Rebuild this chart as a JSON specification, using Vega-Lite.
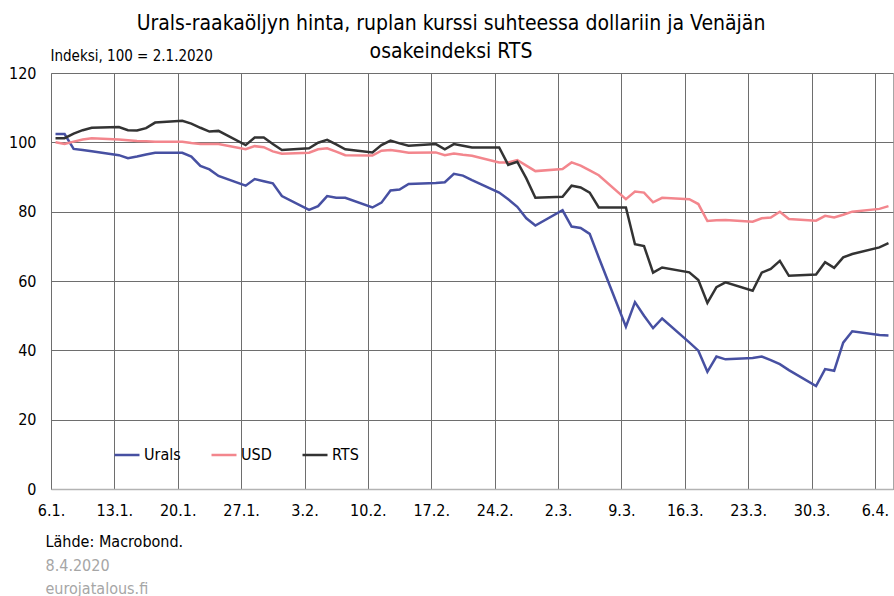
{
  "$schema": "https://vega.github.io/schema/vega-lite/v6.json",
  "width": 842,
  "height": 416,
  "autosize": {"type": "none"},
  "padding": {"left": 51, "top": 73, "right": 1, "bottom": 107},
  "background": "white",
  "config": {
    "font": "'Liberation Sans Narrow', 'DejaVu Sans Condensed', sans-serif",
    "view": {"stroke": "#a6a6a6", "strokeWidth": 1},
    "axis": {"labelColor": "#000000", "titleColor": "#000000", "titleFontWeight": "normal", "gridColor": "#6e6e6e", "gridWidth": 1, "gridOpacity": 1}
  },
  "title": {
    "text": ["Urals-raakaöljyn hinta, ruplan kurssi suhteessa dollariin ja Venäjän", "osakeindeksi RTS"],
    "fontSize": 21,
    "fontWeight": "normal",
    "color": "#000000",
    "anchor": "middle",
    "frame": "bounds",
    "lineHeight": 28,
    "offset": -14
  },
  "data": {"values": [
    {"date": "2020-01-06", "Urals": 102.4, "USD": 100.0, "RTS": 101.2},
    {"date": "2020-01-07", "Urals": 102.4, "USD": 99.5, "RTS": 101.2},
    {"date": "2020-01-08", "Urals": 98.1, "USD": 100.2, "RTS": 102.5},
    {"date": "2020-01-09", "Urals": 97.8, "USD": 100.8, "RTS": 103.5},
    {"date": "2020-01-10", "Urals": 97.4, "USD": 101.2, "RTS": 104.2},
    {"date": "2020-01-13", "Urals": 96.3, "USD": 100.8, "RTS": 104.4},
    {"date": "2020-01-14", "Urals": 95.4, "USD": 100.6, "RTS": 103.5},
    {"date": "2020-01-15", "Urals": 95.9, "USD": 100.4, "RTS": 103.4},
    {"date": "2020-01-16", "Urals": 96.5, "USD": 100.3, "RTS": 104.1},
    {"date": "2020-01-17", "Urals": 97.0, "USD": 100.2, "RTS": 105.7},
    {"date": "2020-01-20", "Urals": 97.0, "USD": 100.2, "RTS": 106.2},
    {"date": "2020-01-21", "Urals": 95.9, "USD": 99.8, "RTS": 105.4},
    {"date": "2020-01-22", "Urals": 93.2, "USD": 99.5, "RTS": 104.2},
    {"date": "2020-01-23", "Urals": 92.2, "USD": 99.5, "RTS": 103.1},
    {"date": "2020-01-24", "Urals": 90.3, "USD": 99.5, "RTS": 103.3},
    {"date": "2020-01-27", "Urals": 87.5, "USD": 98.0, "RTS": 99.2},
    {"date": "2020-01-28", "Urals": 89.4, "USD": 98.9, "RTS": 101.4},
    {"date": "2020-01-29", "Urals": 88.8, "USD": 98.6, "RTS": 101.4},
    {"date": "2020-01-30", "Urals": 88.2, "USD": 97.4, "RTS": 99.5},
    {"date": "2020-01-31", "Urals": 84.5, "USD": 96.7, "RTS": 97.8},
    {"date": "2020-02-03", "Urals": 80.5, "USD": 97.0, "RTS": 98.3},
    {"date": "2020-02-04", "Urals": 81.6, "USD": 98.0, "RTS": 99.9},
    {"date": "2020-02-05", "Urals": 84.5, "USD": 98.3, "RTS": 100.7},
    {"date": "2020-02-06", "Urals": 84.0, "USD": 97.3, "RTS": 99.4},
    {"date": "2020-02-07", "Urals": 84.0, "USD": 96.3, "RTS": 98.0},
    {"date": "2020-02-10", "Urals": 81.2, "USD": 96.2, "RTS": 97.1},
    {"date": "2020-02-11", "Urals": 82.6, "USD": 97.6, "RTS": 99.2},
    {"date": "2020-02-12", "Urals": 86.1, "USD": 97.8, "RTS": 100.5},
    {"date": "2020-02-13", "Urals": 86.4, "USD": 97.4, "RTS": 99.7},
    {"date": "2020-02-14", "Urals": 88.0, "USD": 97.0, "RTS": 99.0},
    {"date": "2020-02-17", "Urals": 88.3, "USD": 97.1, "RTS": 99.5},
    {"date": "2020-02-18", "Urals": 88.5, "USD": 96.3, "RTS": 98.0},
    {"date": "2020-02-19", "Urals": 90.9, "USD": 96.8, "RTS": 99.5},
    {"date": "2020-02-20", "Urals": 90.4, "USD": 96.4, "RTS": 99.0},
    {"date": "2020-02-21", "Urals": 89.1, "USD": 96.1, "RTS": 98.5},
    {"date": "2020-02-24", "Urals": 85.5, "USD": 94.2, "RTS": 98.5},
    {"date": "2020-02-25", "Urals": 83.6, "USD": 94.2, "RTS": 93.5},
    {"date": "2020-02-26", "Urals": 81.4, "USD": 94.9, "RTS": 94.4},
    {"date": "2020-02-27", "Urals": 78.1, "USD": 93.3, "RTS": 89.6},
    {"date": "2020-02-28", "Urals": 76.0, "USD": 91.7, "RTS": 84.0},
    {"date": "2020-03-02", "Urals": 80.4, "USD": 92.3, "RTS": 84.3},
    {"date": "2020-03-03", "Urals": 75.7, "USD": 94.2, "RTS": 87.5},
    {"date": "2020-03-04", "Urals": 75.3, "USD": 93.3, "RTS": 87.0},
    {"date": "2020-03-05", "Urals": 73.6, "USD": 91.9, "RTS": 85.5},
    {"date": "2020-03-06", "Urals": 66.8, "USD": 90.5, "RTS": 81.2},
    {"date": "2020-03-09", "Urals": 46.8, "USD": 83.6, "RTS": 81.2},
    {"date": "2020-03-10", "Urals": 53.9, "USD": 85.8, "RTS": 70.6},
    {"date": "2020-03-11", "Urals": 50.0, "USD": 85.5, "RTS": 70.1},
    {"date": "2020-03-12", "Urals": 46.4, "USD": 82.7, "RTS": 62.4},
    {"date": "2020-03-13", "Urals": 49.2, "USD": 84.0, "RTS": 63.9},
    {"date": "2020-03-16", "Urals": 42.3, "USD": 83.6, "RTS": 62.5},
    {"date": "2020-03-17", "Urals": 39.9, "USD": 82.2, "RTS": 60.3},
    {"date": "2020-03-18", "Urals": 33.8, "USD": 77.3, "RTS": 53.7},
    {"date": "2020-03-19", "Urals": 38.2, "USD": 77.5, "RTS": 58.2},
    {"date": "2020-03-20", "Urals": 37.4, "USD": 77.6, "RTS": 59.6},
    {"date": "2020-03-23", "Urals": 37.8, "USD": 77.1, "RTS": 57.2},
    {"date": "2020-03-24", "Urals": 38.2, "USD": 78.1, "RTS": 62.4},
    {"date": "2020-03-25", "Urals": 37.2, "USD": 78.3, "RTS": 63.5},
    {"date": "2020-03-26", "Urals": 36.0, "USD": 80.0, "RTS": 65.8},
    {"date": "2020-03-27", "Urals": 34.3, "USD": 77.9, "RTS": 61.5},
    {"date": "2020-03-30", "Urals": 29.7, "USD": 77.4, "RTS": 61.9},
    {"date": "2020-03-31", "Urals": 34.6, "USD": 78.8, "RTS": 65.4},
    {"date": "2020-04-01", "Urals": 34.1, "USD": 78.3, "RTS": 63.8},
    {"date": "2020-04-02", "Urals": 42.2, "USD": 79.1, "RTS": 66.8},
    {"date": "2020-04-03", "Urals": 45.5, "USD": 80.0, "RTS": 67.8},
    {"date": "2020-04-06", "Urals": 44.4, "USD": 80.8, "RTS": 69.7},
    {"date": "2020-04-07", "Urals": 44.3, "USD": 81.6, "RTS": 70.9}
  ]},
  "transform": [{"fold": ["Urals", "USD", "RTS"], "as": ["series", "value"]}],
  "encoding": {
    "y": {
      "field": "value",
      "type": "quantitative",
      "scale": {"domain": [0, 120], "nice": false},
      "axis": {
        "values": [0, 20, 40, 60, 80, 100, 120],
        "title": "Indeksi, 100 = 2.1.2020",
        "titleAngle": 0,
        "titleAlign": "left",
        "titleBaseline": "alphabetic",
        "titleX": -1,
        "titleY": -13,
        "titleFontSize": 15,
        "labelFontSize": 16,
        "ticks": false,
        "tickSize": 0,
        "labelPadding": 15,
        "domain": false,
        "grid": true
      }
    }
  },
  "layer": [
    {
      "mark": {"type": "line", "strokeWidth": 2.5},
      "encoding": {
        "x": {
          "field": "date",
          "type": "temporal",
          "timeUnit": "utcyearmonthdate",
          "bandPosition": 0.5,
          "scale": {"type": "utc", "domain": [{"year": 2020, "month": 1, "date": 6, "utc": true}, {"year": 2020, "month": 4, "date": 8, "utc": true}]},
          "axis": {
            "values": [
              {"year": 2020, "month": 1, "date": 6, "utc": true},
              {"year": 2020, "month": 1, "date": 13, "utc": true},
              {"year": 2020, "month": 1, "date": 20, "utc": true},
              {"year": 2020, "month": 1, "date": 27, "utc": true},
              {"year": 2020, "month": 2, "date": 3, "utc": true},
              {"year": 2020, "month": 2, "date": 10, "utc": true},
              {"year": 2020, "month": 2, "date": 17, "utc": true},
              {"year": 2020, "month": 2, "date": 24, "utc": true},
              {"year": 2020, "month": 3, "date": 2, "utc": true},
              {"year": 2020, "month": 3, "date": 9, "utc": true},
              {"year": 2020, "month": 3, "date": 16, "utc": true},
              {"year": 2020, "month": 3, "date": 23, "utc": true},
              {"year": 2020, "month": 3, "date": 30, "utc": true},
              {"year": 2020, "month": 4, "date": 6, "utc": true}
            ],
            "labelExpr": "utcFormat(datum.value, '%-d.%-m.')",
            "grid": true,
            "ticks": false,
            "tickSize": 0,
            "labelPadding": 13,
            "labelFontSize": 16,
            "labelOverlap": false,
            "labelBound": false,
            "labelFlush": false,
            "domainColor": "#b3b3b3",
            "domainWidth": 1.5,
            "title": "Lähde: Macrobond.",
            "titleFontSize": 16,
            "titleAnchor": "start",
            "titleAlign": "left",
            "titleBaseline": "alphabetic",
            "titleX": -6,
            "titleY": 57
          }
        },
        "color": {
          "field": "series",
          "type": "nominal",
          "scale": {"domain": ["Urals", "USD", "RTS"], "range": ["#4750a2", "#f3868d", "#333333"]},
          "legend": {
            "orient": "none",
            "legendX": 62,
            "legendY": 368,
            "direction": "horizontal",
            "title": null,
            "padding": 0,
            "symbolType": "stroke",
            "symbolSize": 625,
            "symbolStrokeWidth": 2.5,
            "labelFontSize": 16,
            "labelColor": "#000000",
            "labelOffset": 3,
            "columnPadding": 25
          }
        }
      }
    },
    {
      "mark": {"type": "line", "strokeOpacity": 0},
      "encoding": {
        "x": {
          "field": "date",
          "type": "temporal",
          "timeUnit": "utcyearmonthdate",
          "bandPosition": 0.5,
          "scale": {"type": "utc", "domain": [{"year": 2020, "month": 1, "date": 6, "utc": true}, {"year": 2020, "month": 4, "date": 8, "utc": true}]},
          "axis": {
            "orient": "bottom",
            "labels": false,
            "ticks": false,
            "domain": false,
            "grid": false,
            "title": ["8.4.2020", "eurojatalous.fi"],
            "titleColor": "#a6a6a6",
            "titleFontSize": 16,
            "titleLineHeight": 23,
            "titleAnchor": "start",
            "titleAlign": "left",
            "titleBaseline": "alphabetic",
            "titleX": -6,
            "titleY": 81
          }
        },
        "detail": {"field": "series", "type": "nominal"}
      }
    }
  ],
  "resolve": {"scale": {"x": "independent"}, "axis": {"x": "independent"}}
}
